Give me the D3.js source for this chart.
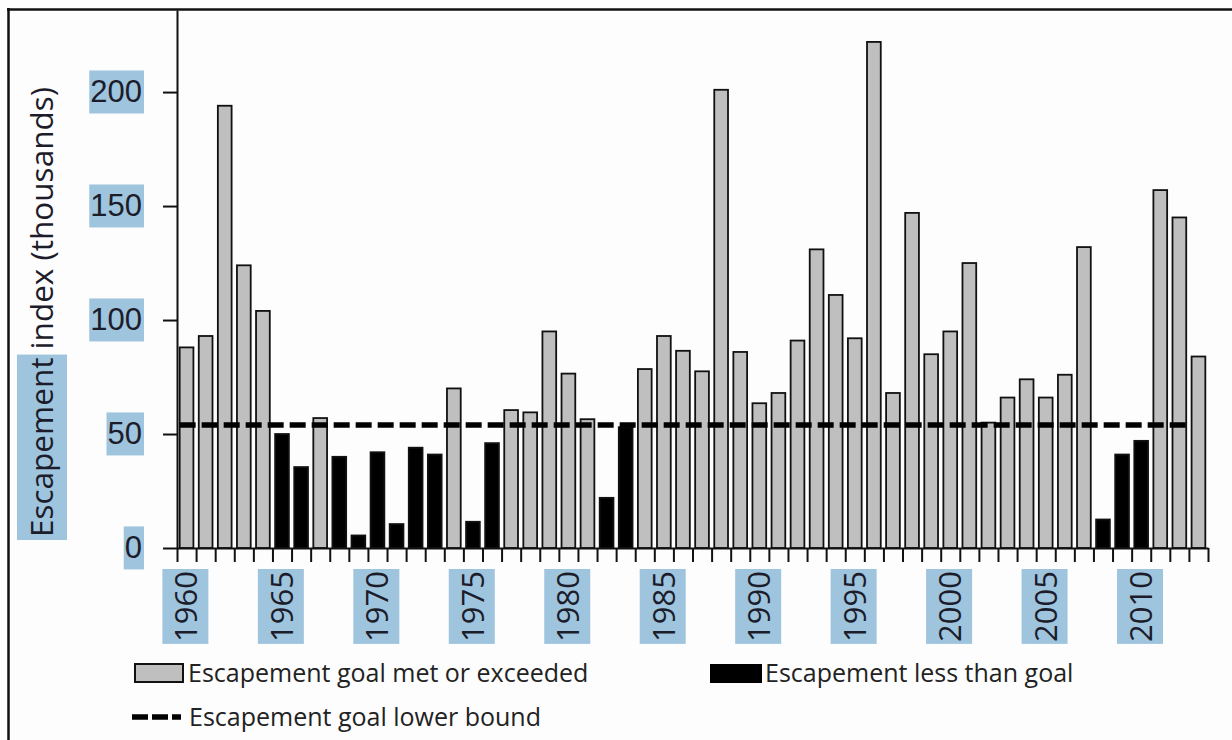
<!DOCTYPE html>
<html lang="en">
<head>
    <meta charset="UTF-8">
    <title>Escapement index</title>
    <script src="https://d3js.org/d3.v7.min.js"></script>
    <style>
        body {
            margin: 0;
            background: #fdfdfd;
            font-family: "Open Sans", sans-serif;
        }
        .tick-label {
            font-size: 31px;
            fill: #1c1c2a;
        }
        .legend-text {
            font-size: 25px;
            fill: #222;
        }
        .axis-title {
            font-size: 31.5px;
            fill: #1c1c2a;
        }
    </style>
</head>
<body>
    <svg width="1232" height="740"></svg>
    <script>
        // data (thousands)
        const years = d3.range(1960, 2014);
        const escapement = [
            88, 93, 194, 124, 104, 50, 35.5, 57, 40, 5.5,
            42, 10.5, 44, 41, 70, 11.5, 46, 60.5, 59.5, 95,
            76.5, 56.5, 22, 53, 78.5, 93, 86.5, 77.5, 201, 86,
            63.5, 68, 91, 131, 111, 92, 222, 68, 147, 85,
            95, 125, 55, 66, 74, 66, 76, 132, 12.5, 41,
            47, 157, 145, 84
        ];
        const goalLowerBound = 54;
        const yTicks = [0, 50, 100, 150, 200];
        const yearLabels = [1960, 1965, 1970, 1975, 1980, 1985, 1990, 1995, 2000, 2005, 2010];
        const legendItems = ["Escapement goal met or exceeded", "Escapement less than goal", "Escapement goal lower bound"];

        const data = years.map((yr, i) => ({ year: yr, value: escapement[i] }));

        const highlight = "#9fc4de";
        const svg = d3.select("svg");

        // frame (only left and top edges show)
        svg.append("line").attr("x1", 8.5).attr("x2", 8.5).attr("y1", 8).attr("y2", 740)
            .attr("stroke", "#111").attr("stroke-width", 2.5);
        svg.append("line").attr("x1", 7).attr("x2", 1232).attr("y1", 9.5).attr("y2", 9.5)
            .attr("stroke", "#111").attr("stroke-width", 2.5);

        const x0 = 177, x1 = 1208, yBottom = 548, yTop = 10;

        const x = d3.scaleBand()
            .domain(years)
            .range([x0, x1])
            .paddingInner(0.28)
            .paddingOuter(0.14);

        const y = d3.scaleLinear()
            .domain([0, 236])
            .range([yBottom, yTop]);

        // bars
        svg.selectAll(".bar")
            .data(data)
            .enter()
            .append("rect")
            .attr("class", "bar")
            .attr("x", d => x(d.year))
            .attr("y", d => y(d.value))
            .attr("width", x.bandwidth())
            .attr("height", d => y(0) - y(d.value))
            .attr("fill", d => d.value >= goalLowerBound ? "#bfbfbf" : "#000")
            .attr("stroke", "#111")
            .attr("stroke-width", 1.8);

        // goal line
        svg.append("line")
            .attr("x1", x(years[0]))
            .attr("x2", x(years[years.length - 1]))
            .attr("y1", y(goalLowerBound))
            .attr("y2", y(goalLowerBound))
            .attr("stroke", "#000")
            .attr("stroke-width", 5.5)
            .attr("stroke-dasharray", "16 6");

        // y axis
        const yAxis = svg.append("g")
            .attr("transform", `translate(${x0},0)`)
            .call(d3.axisLeft(y).tickValues(yTicks).tickSize(14).tickPadding(21).tickSizeOuter(0));
        yAxis.select(".domain").attr("stroke", "#111").attr("stroke-width", 2);
        yAxis.selectAll(".tick line").attr("stroke", "#111").attr("stroke-width", 2);
        yAxis.selectAll(".tick text")
            .attr("class", "tick-label")
            .attr("font-family", null)
            .attr("font-size", null)
            .attr("fill", null)
            .each(function() {
                const b = this.getBBox();
                d3.select(this.parentNode).insert("rect", "text")
                    .attr("x", b.x - 1).attr("y", b.y - 4)
                    .attr("width", b.width + 3).attr("height", b.height + 8)
                    .attr("fill", highlight);
            });

        // x axis: ticks between categories
        const step = x.step();
        const xTickScale = d3.scaleLinear().domain([0, years.length]).range([x0, x0 + step * years.length]);
        const xAxis = svg.append("g")
            .attr("transform", `translate(0,${yBottom})`)
            .call(d3.axisBottom(xTickScale).tickValues(d3.range(years.length + 1)).tickSize(14).tickFormat("").tickSizeOuter(0));
        xAxis.select(".domain").attr("stroke", "#111").attr("stroke-width", 2);
        xAxis.selectAll(".tick line").attr("stroke", "#111").attr("stroke-width", 2);

        // year labels, rotated, with highlight boxes
        const yl = svg.selectAll(".year-label")
            .data(yearLabels)
            .enter()
            .append("g")
            .attr("class", "year-label")
            .attr("transform", d => `translate(${x(d) + x.bandwidth() / 2},571) rotate(-90)`);
        yl.append("text")
            .attr("class", "tick-label")
            .attr("text-anchor", "end")
            .attr("dy", "0.35em")
            .text(d => d);
        yl.each(function() {
            const t = d3.select(this).select("text").node();
            const b = t.getBBox();
            d3.select(this).insert("rect", "text")
                .attr("x", b.x - 2).attr("y", b.y - 2)
                .attr("width", b.width + 4).attr("height", b.height + 4)
                .attr("fill", highlight);
        });

        // y axis title with highlighted first word
        const titleG = svg.append("g").attr("transform", "translate(53,312) rotate(-90)");
        const title = titleG.append("text")
            .attr("class", "axis-title")
            .attr("text-anchor", "middle")
            .text("Escapement index (thousands)");
        const fullLen = title.node().getComputedTextLength();
        const wordLen = title.node().getSubStringLength(0, 10);
        titleG.insert("rect", "text")
            .attr("x", -fullLen / 2 - 3)
            .attr("y", -36)
            .attr("width", wordLen + 6)
            .attr("height", 50)
            .attr("fill", highlight);

        // legend
        const legend = svg.append("g");
        legend.append("rect").attr("x", 135).attr("y", 664).attr("width", 48).attr("height", 18)
            .attr("fill", "#bfbfbf").attr("stroke", "#111").attr("stroke-width", 2);
        legend.append("text").attr("class", "legend-text").attr("x", 188).attr("y", 682).text(legendItems[0]);

        legend.append("rect").attr("x", 710).attr("y", 664).attr("width", 52).attr("height", 19)
            .attr("fill", "#000");
        legend.append("text").attr("class", "legend-text").attr("x", 765).attr("y", 682).text(legendItems[1]);

        legend.append("line").attr("x1", 132).attr("x2", 181).attr("y1", 717).attr("y2", 717)
            .attr("stroke", "#000").attr("stroke-width", 5.5).attr("stroke-dasharray", "16 4");
        legend.append("text").attr("class", "legend-text").attr("x", 189).attr("y", 726).text(legendItems[2]);
    </script>
</body>
</html>
